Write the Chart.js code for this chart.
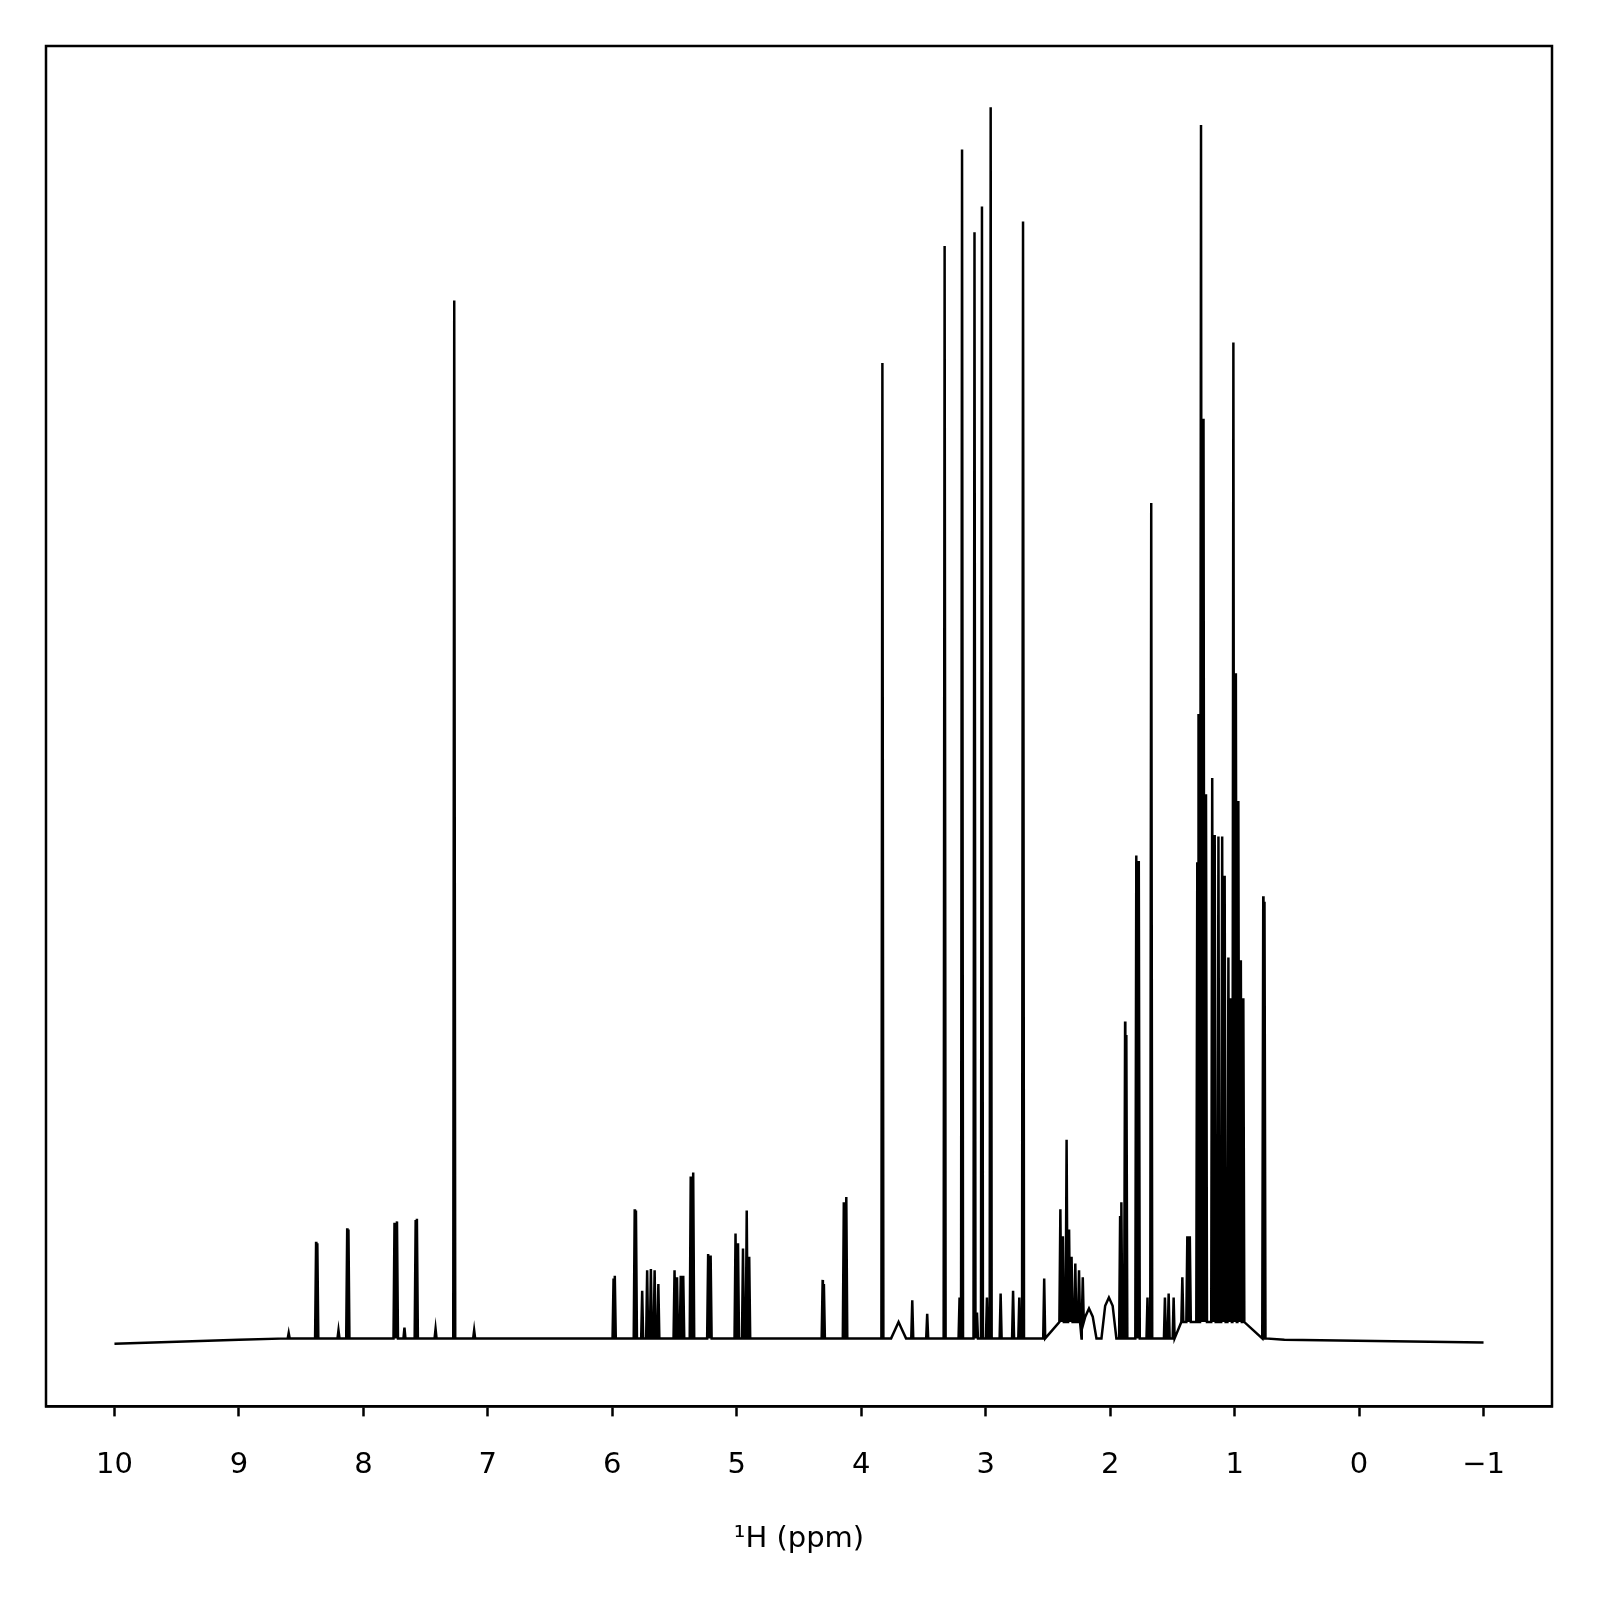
<!DOCTYPE html>
<html><head><meta charset="utf-8">
<script src="https://cdn.jsdelivr.net/npm/chart.js@4"></script>
<style>html,body{margin:0;padding:0;background:#fff;overflow:hidden}#w{width:1600px;height:1600px;position:relative}</style>
</head><body><div id="w"><canvas id="c"></canvas></div>
<script>
// Peak positions (ppm) and heights (relative intensity, plot 0..1)
const peakPpm = [8.60,8.38,8.37,8.20,8.13,8.12,7.75,7.73,7.67,7.58,7.57,7.42,7.27,7.11,5.99,5.98,5.82,5.81,5.76,5.72,5.69,5.66,5.63,5.50,5.48,5.45,5.43,5.37,5.35,5.23,5.21,5.01,4.99,4.95,4.92,4.90,4.31,4.30,4.14,4.12,3.83,3.59,3.47,3.33,3.21,3.19,3.09,3.07,3.03,2.99,2.96,2.88,2.78,2.73,2.70,2.53,2.40,2.38,2.35,2.33,2.31,2.28,2.25,2.22,1.92,1.91,1.88,1.87,1.79,1.77,1.70,1.67,1.56,1.53,1.49,1.42,1.38,1.36,1.30,1.29,1.27,1.25,1.23,1.18,1.16,1.13,1.10,1.08,1.05,1.03,1.01,0.99,0.97,0.95,0.93,0.77,0.76];
const peakHeight = [0.054,0.121,0.120,0.056,0.131,0.130,0.135,0.136,0.058,0.137,0.138,0.057,0.813,0.056,0.094,0.096,0.145,0.144,0.085,0.100,0.101,0.100,0.090,0.100,0.095,0.096,0.096,0.169,0.172,0.112,0.111,0.127,0.120,0.116,0.144,0.110,0.093,0.090,0.150,0.154,0.767,0.078,0.068,0.853,0.080,0.924,0.863,0.069,0.882,0.080,0.955,0.083,0.085,0.080,0.871,0.094,0.145,0.125,0.196,0.130,0.110,0.105,0.100,0.095,0.140,0.150,0.283,0.273,0.405,0.401,0.080,0.664,0.080,0.083,0.080,0.095,0.125,0.125,0.400,0.509,0.942,0.726,0.450,0.462,0.420,0.419,0.419,0.390,0.330,0.300,0.782,0.539,0.445,0.328,0.300,0.375,0.371];
// Broad humps
const humpPpm = [3.70,2.17,2.01];
const humpHeight = [0.062,0.072,0.080];
const edgePpm = [10,-1];
const edgeHeight = [0.046,0.047];
const baseHeight = 0.050;

const pts=[];
pts.push({x:edgePpm[0],y:edgeHeight[0]});
pts.push({x:9.0,y:0.049});
peakPpm.forEach((p,i)=>{
  const b = (p<1.45&&p>0.9)?0.062:((p<2.45&&p>2.2)?0.062:baseHeight);
  pts.push({x:p+0.008,y:b});pts.push({x:p,y:peakHeight[i]});pts.push({x:p-0.008,y:b});
});
humpPpm.forEach((p,i)=>{
  pts.push({x:p+0.06,y:baseHeight});pts.push({x:p+0.03,y:humpHeight[i]-0.006});pts.push({x:p,y:humpHeight[i]});pts.push({x:p-0.03,y:humpHeight[i]-0.006});pts.push({x:p-0.06,y:baseHeight});
});
pts.push({x:0.6,y:0.049});
pts.push({x:edgePpm[1],y:edgeHeight[1]});
pts.sort((a,b)=>b.x-a.x);

const box={id:'box',afterDraw(ch){const a=ch.chartArea,g=ch.ctx;g.save();g.strokeStyle='#000';g.lineWidth=2.5;g.strokeRect(a.left,a.top,a.right-a.left,a.bottom-a.top);g.restore();}};
new Chart(document.getElementById('c'),{
 type:'scatter',
 data:{datasets:[{data:pts,showLine:true,borderColor:'#000',borderWidth:2.5,pointRadius:0,tension:0}]},
 options:{responsive:true,maintainAspectRatio:false,animation:false,
  layout:{padding:{left:46,top:46,right:48,bottom:39}},
  plugins:{legend:{display:false},tooltip:{enabled:false}},
  scales:{
   x:{type:'linear',reverse:true,min:-1.55,max:10.55,grid:{display:true,drawOnChartArea:false,drawTicks:true,tickLength:10,tickColor:'#000',tickWidth:2.5},border:{display:true,color:'#000',width:2.5},
      afterBuildTicks:(s)=>{s.ticks=[10,9,8,7,6,5,4,3,2,1,0,-1].map(v=>({value:v}));},
      ticks:{color:'#000',font:{family:'DejaVu Sans',size:29},padding:32,callback:v=>v<0?'\u2212'+Math.abs(v):String(v)},
      title:{display:true,text:'\u00b9H (ppm)',color:'#000',font:{family:'DejaVu Sans',size:29},padding:{top:7}}},
   y:{display:false,min:0,max:1}
  }}
 ,plugins:[box]});
</script></body></html>
